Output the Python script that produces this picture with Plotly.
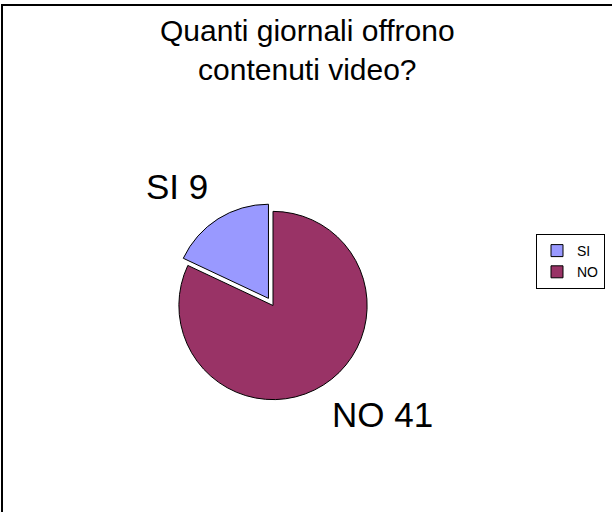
import plotly.graph_objects as go

labels = ["SI", "NO"]
values = [9, 41]
colors = ["#9999FF", "#993366"]
pulls = [0.09, 0.0]
title_text = "Quanti giornali offrono<br>contenuti video?"

W, H = 612, 512
FONT = "Liberation Sans, Arial, sans-serif"

# first slice starts at 12 o'clock and runs counterclockwise
rotation = -360.0 * values[0] / sum(values)

fig = go.Figure()
fig.add_trace(go.Pie(
    labels=labels,
    values=values,
    sort=False,
    direction="counterclockwise",
    rotation=rotation,
    pull=pulls,
    marker=dict(colors=colors, line=dict(color="black", width=1)),
    textinfo="none",
    hoverinfo="label+value",
    domain=dict(x=[170.4 / W, 375.6 / W], y=[103.9 / H, 309.1 / H]),
))

# outside labels "LABEL VALUE"
label_pos = {"SI": (177 / W, 1 - 186 / H), "NO": (382 / W, 1 - 414 / H)}
for lab, val in zip(labels, values):
    x, y = label_pos[lab]
    fig.add_annotation(x=x, y=y, xref="paper", yref="paper",
                       text=f"{lab} {val}", showarrow=False,
                       xanchor="center", yanchor="middle",
                       font=dict(family=FONT, size=35, color="black"))

fig.add_annotation(x=307 / W, y=1 - 50 / H, xref="paper", yref="paper",
                   text=title_text, showarrow=False,
                   xanchor="center", yanchor="middle",
                   font=dict(family=FONT, size=30, color="black"))

# chart-area border
fig.add_shape(type="rect", xref="paper", yref="paper",
              x0=2 / W, x1=1.05, y0=-0.05, y1=1 - 5 / H,
              line=dict(color="black", width=2))

fig.update_layout(
    width=W, height=H,
    margin=dict(l=0, r=0, t=0, b=0),
    paper_bgcolor="white",
    plot_bgcolor="white",
    showlegend=True,
    legend=dict(x=605 / W, y=1 - 234 / H, xanchor="right", yanchor="top",
                bordercolor="black", borderwidth=1, bgcolor="white",
                font=dict(family=FONT, size=14, color="black"),
                itemwidth=30, tracegroupgap=0),
)

fig.write_html("out.html", config={"displayModeBar": False},
               post_script="document.body.style.margin='0';")
